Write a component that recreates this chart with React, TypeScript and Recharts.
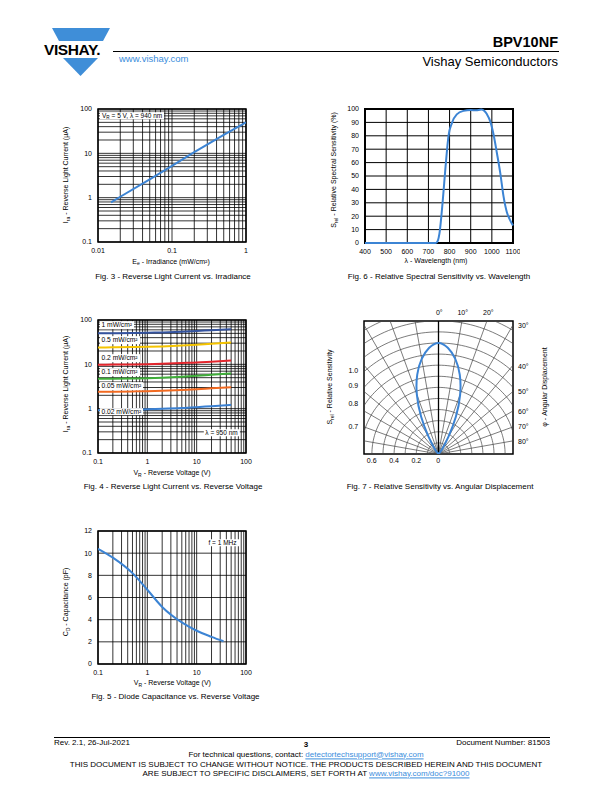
import React from "react";
import {
  ComposedChart,
  LineChart,
  Line,
  XAxis,
  YAxis,
  CartesianGrid,
  ReferenceArea,
  ReferenceLine,
} from "recharts";

const FONT = '"Liberation Sans", Arial, Helvetica, sans-serif';
const CURVE_BLUE = "#3c84d4";
const LINK_BLUE = "#3a8ddc";

// Fig. 3 - reverse light current vs irradiance
const irradiance = [0.015, 0.02, 0.05, 0.1, 0.2, 0.5, 1];
const lightCurrent = [0.78, 1.05, 2.6, 5.2, 10.6, 26, 50];

// Fig. 4 - reverse light current vs reverse voltage
const reverseVolts = [0.1, 0.2, 0.5, 1, 2, 5, 10, 20, 50];
const cur1mW = [50, 50.3, 50.8, 51.5, 52.5, 54.5, 56.5, 59, 62];
const cur05mW = [24, 24.2, 24.5, 24.8, 25.4, 26.5, 27.7, 29.2, 31];
const cur02mW = [9.8, 9.85, 9.95, 10.1, 10.3, 10.7, 11.0, 11.5, 12.2];
const cur01mW = [4.7, 4.73, 4.8, 4.87, 5.0, 5.25, 5.5, 5.8, 6.2];
const cur005mW = [2.4, 2.42, 2.45, 2.48, 2.54, 2.65, 2.75, 2.88, 3.05];
const cur002mW = [0.92, 0.93, 0.95, 0.97, 0.99, 1.03, 1.08, 1.14, 1.22];
const irrLabels = ["1 mW/cm²", "0.5 mW/cm²", "0.2 mW/cm²", "0.1 mW/cm²", "0.05 mW/cm²", "0.02 mW/cm²"];
const irrColors = ["#34539f", "#f5c400", "#e3262d", "#3fae3a", "#f26a21", "#3a80d2"];
const irrLabelY = [325, 340, 358, 372, 386, 411.5];

// Fig. 5 - diode capacitance vs reverse voltage
const capVolts = [0.1, 0.2, 0.5, 1, 2, 5, 10, 20, 35];
const capPF = [10.4, 9.6, 8.2, 6.7, 5.15, 3.75, 3.0, 2.45, 2.05];

// Fig. 6 - relative spectral sensitivity
const wavelengths = [400, 500, 600, 700, 735, 745, 752, 768, 781, 795, 811, 834, 866, 900, 925, 950, 965, 977, 992, 1008, 1024, 1040, 1055, 1071, 1085, 1100];
const spectral = [0, 0, 0, 0, 0, 2, 7, 32, 57, 80, 89.5, 96, 98.6, 99.3, 99, 99.6, 98.5, 96, 91, 81, 67, 52, 35, 23, 17.5, 13];

// Fig. 7 - relative sensitivity vs angle
const lobeAngles = [-45, -40, -35, -30, -25, -20, -15, -10, -5, 0, 5, 10, 15, 20, 25, 30, 35, 40, 45];
const lobeSens = [0, 0.02, 0.07, 0.18, 0.37, 0.57, 0.74, 0.87, 0.96, 1.0, 0.96, 0.87, 0.74, 0.57, 0.37, 0.18, 0.07, 0.02, 0];
const arcRadii = [0.1, 0.2, 0.3, 0.4, 0.5, 0.6, 0.7, 0.8, 0.9, 1.0, 1.1, 1.2, 1.3, 1.4];
const spokeAngles = [-80, -70, -60, -50, -40, -30, -20, -10, 10, 20, 30, 40, 50, 60, 70, 80];

const logLines = (lo: number, hi: number) => {
  const out: number[] = [];
  for (let e = Math.round(Math.log10(lo)); e < Math.round(Math.log10(hi)); e++) {
    for (let m = 1; m < 10; m++) out.push(+(m * Math.pow(10, e)).toPrecision(3));
  }
  out.push(hi);
  return out;
};

const tickStyle = { fontSize: 7, fill: "#000", fontFamily: FONT };

const Sub = ({ children }: { children: React.ReactNode }) => (
  <span style={{ fontSize: "0.72em", position: "relative", top: "0.3em" }}>{children}</span>
);

type TProps = {
  x: number;
  y: number;
  size?: number;
  anchor?: "start" | "middle" | "end";
  rotate?: boolean;
  bold?: boolean;
  color?: string;
  bg?: boolean;
  children: React.ReactNode;
};

function T({ x, y, size = 7, anchor = "middle", rotate, bold, color = "#000", bg, children }: TProps) {
  const tx = anchor === "start" ? "0" : anchor === "end" ? "-100%" : "-50%";
  return (
    <div
      style={{
        position: "absolute",
        left: x,
        top: y,
        transform: `translate(${tx}, -50%)${rotate ? " rotate(-90deg)" : ""}`,
        fontSize: size,
        fontWeight: bold ? "bold" : "normal",
        color,
        whiteSpace: "nowrap",
        lineHeight: 1.15,
        background: bg ? "#fff" : "transparent",
        padding: bg ? "0 2px" : 0,
      }}
    >
      {children}
    </div>
  );
}

const Box = ({ left, top, children }: { left: number; top: number; children: React.ReactNode }) => (
  <div style={{ position: "absolute", left, top }}>{children}</div>
);

function Fig3() {
  const data = irradiance.map((e, i) => ({ e, i: lightCurrent[i] }));
  return (
    <LineChart width={200} height={170} data={data} margin={{ top: 9, right: 14, bottom: 0, left: 0 }}>
      <CartesianGrid stroke="#000" strokeWidth={0.8} verticalValues={logLines(0.01, 1)} horizontalValues={logLines(0.1, 100)} />
      <XAxis dataKey="e" type="number" scale="log" domain={[0.01, 1]} ticks={[0.01, 0.1, 1]} allowDataOverflow interval={0}
        height={28} tickLine={false} axisLine={false} tickSize={4} tickMargin={2} tick={tickStyle} />
      <YAxis type="number" scale="log" domain={[0.1, 100]} ticks={[0.1, 1, 10, 100]} allowDataOverflow interval={0}
        width={38} tickLine={false} axisLine={false} tickSize={4} tickMargin={2} tick={tickStyle} />
      <ReferenceArea x1={0.01} x2={1} y1={0.1} y2={100} fill="none" stroke="#000" strokeWidth={1.5} />
      <Line dataKey="i" type="linear" stroke={CURVE_BLUE} strokeWidth={2} dot={false} isAnimationActive={false} />
    </LineChart>
  );
}

function Fig4() {
  const data = reverseVolts.map((v, i) => ({
    v, a: cur1mW[i], b: cur05mW[i], c: cur02mW[i], d: cur01mW[i], e: cur005mW[i], f: cur002mW[i],
  }));
  const keys = ["a", "b", "c", "d", "e", "f"];
  return (
    <LineChart width={200} height={170} data={data} margin={{ top: 9, right: 14, bottom: 0, left: 0 }}>
      <CartesianGrid stroke="#000" strokeWidth={0.8} verticalValues={logLines(0.1, 100)} horizontalValues={logLines(0.1, 100)} />
      <XAxis dataKey="v" type="number" scale="log" domain={[0.1, 100]} ticks={[0.1, 1, 10, 100]} allowDataOverflow interval={0}
        height={28} tickLine={false} axisLine={false} tickSize={4} tickMargin={2} tick={tickStyle} />
      <YAxis type="number" scale="log" domain={[0.1, 100]} ticks={[0.1, 1, 10, 100]} allowDataOverflow interval={0}
        width={38} tickLine={false} axisLine={false} tickSize={4} tickMargin={2} tick={tickStyle} />
      <ReferenceArea x1={0.1} x2={100} y1={0.1} y2={100} fill="none" stroke="#000" strokeWidth={1.5} />
      {keys.map((k, i) => (
        <Line key={k} dataKey={k} type="monotone" stroke={irrColors[i]} strokeWidth={2} dot={false} isAnimationActive={false} />
      ))}
    </LineChart>
  );
}

function Fig5() {
  const data = capVolts.map((v, i) => ({ v, c: capPF[i] }));
  return (
    <LineChart width={200} height={170} data={data} margin={{ top: 9, right: 14, bottom: 0, left: 0 }}>
      <CartesianGrid stroke="#000" strokeWidth={0.8} verticalValues={logLines(0.1, 100)} horizontalValues={[0, 2, 4, 6, 8, 10, 12]} />
      <XAxis dataKey="v" type="number" scale="log" domain={[0.1, 100]} ticks={[0.1, 1, 10, 100]} allowDataOverflow interval={0}
        height={28} tickLine={false} axisLine={false} tickSize={4} tickMargin={2} tick={tickStyle} />
      <YAxis type="number" domain={[0, 12]} ticks={[0, 2, 4, 6, 8, 10, 12]} interval={0}
        width={38} tickLine={false} axisLine={false} tickSize={4} tickMargin={2} tick={tickStyle} />
      <ReferenceArea x1={0.1} x2={100} y1={0} y2={12} fill="none" stroke="#000" strokeWidth={1.5} />
      <Line dataKey="c" type="monotone" stroke={CURVE_BLUE} strokeWidth={2} dot={false} isAnimationActive={false} />
    </LineChart>
  );
}

function Fig6() {
  const data = wavelengths.map((w, i) => ({ w, s: spectral[i] }));
  const xt = [400, 500, 600, 700, 800, 900, 1000, 1100];
  const yt = [0, 10, 20, 30, 40, 50, 60, 70, 80, 90, 100];
  return (
    <LineChart width={200} height={170} data={data} margin={{ top: 9, right: 7, bottom: 0, left: 0 }}>
      <CartesianGrid stroke="#000" strokeWidth={1} verticalValues={xt} horizontalValues={yt} />
      <XAxis dataKey="w" type="number" domain={[400, 1100]} ticks={xt} interval={0}
        height={27} tickLine={false} axisLine={false} tickSize={4} tickMargin={2} tick={tickStyle} />
      <YAxis type="number" domain={[0, 100]} ticks={yt} interval={0}
        width={45} tickLine={false} axisLine={false} tickSize={4} tickMargin={2} tick={tickStyle} />
      <ReferenceArea x1={400} x2={1100} y1={0} y2={100} fill="none" stroke="#000" strokeWidth={2} />
      <Line dataKey="s" type="monotone" stroke={CURVE_BLUE} strokeWidth={2} dot={false} isAnimationActive={false} />
    </LineChart>
  );
}

const PX = 0.6712;
const PY = 1.198;

function Fig7() {
  const rad = Math.PI / 180;
  const lobe = lobeAngles.map((a, i) => ({ x: lobeSens[i] * Math.sin(a * rad), y: lobeSens[i] * Math.cos(a * rad) }));
  const arc = (r: number) => {
    const pts: { x: number; y: number }[] = [];
    for (let a = -90; a <= 90; a += 2) pts.push({ x: r * Math.sin(a * rad), y: r * Math.cos(a * rad) });
    return pts;
  };
  const spokeEnd = (a: number) => {
    const s = Math.abs(Math.sin(a * rad));
    const c = Math.cos(a * rad);
    const r = Math.min(s > 0 ? PX / s : 99, PY / c);
    return { x: r * Math.sin(a * rad), y: r * c };
  };
  return (
    <ComposedChart width={153} height={137} data={lobe} margin={{ top: 2, right: 2, bottom: 2, left: 2 }}>
      <XAxis dataKey="x" type="number" domain={[-PX, PX]} hide allowDataOverflow />
      <YAxis type="number" domain={[0, PY]} hide allowDataOverflow />
      {spokeAngles.map((a) => (
        <ReferenceLine key={a} segment={[{ x: 0, y: 0 }, spokeEnd(a)]} stroke="#444" strokeWidth={0.7} />
      ))}
      {arcRadii.map((r) => (
        <Line key={r} data={arc(r)} dataKey="y" type="linear" stroke="#444" strokeWidth={0.7} dot={false} activeDot={false} isAnimationActive={false} />
      ))}
      <ReferenceLine segment={[{ x: 0, y: 0 }, { x: 0, y: PY }]} stroke="#000" strokeWidth={1.3} />
      <Line dataKey="y" type="natural" stroke={CURVE_BLUE} strokeWidth={2} dot={false} activeDot={false} isAnimationActive={false} />
      <ReferenceArea x1={-PX} x2={PX} y1={0} y2={PY} fill="none" stroke="#000" strokeWidth={1.5} />
    </ComposedChart>
  );
}

export default function App() {
  return (
    <div style={{ position: "absolute", left: 0, top: 0, width: 612, height: 792, background: "#fff", fontFamily: FONT, overflow: "hidden", color: "#000" }}>
      {/* header */}
      <svg style={{ position: "absolute", left: 0, top: 0 }} width={130} height={90}>
        <polygon points="52,28 110,28 103,41 59,41" fill="#3f8ed8" />
        <polygon points="63,58 98,58 80.5,76" fill="#3f8ed8" />
        <text x={44} y={55} fontSize={15.5} fontWeight="bold" fontFamily={FONT} letterSpacing={-0.4} fill="#000">VISHAY.</text>
      </svg>
      <div style={{ position: "absolute", left: 113, top: 51, width: 446, height: 1.3, background: "#000" }} />
      <T x={558} y={41.5} size={14.5} bold anchor="end">BPV10NF</T>
      <T x={558} y={62} size={13} anchor="end">Vishay Semiconductors</T>
      <T x={119} y={58.5} size={9.5} anchor="start" color={LINK_BLUE}>www.vishay.com</T>

      {/* Fig. 3 */}
      <Box left={60} top={100}><Fig3 /></Box>
      <T x={100} y={116} anchor="start" bg size={6.5}>V<Sub>R</Sub> = 5 V, λ = 940 nm</T>
      <T x={66} y={175} rotate>I<Sub>ra</Sub> - Reverse Light Current (µA)</T>
      <T x={171} y={261.5}>E<Sub>e</Sub> - Irradiance (mW/cm²)</T>
      <T x={173} y={276.7} size={8}>Fig. 3 - Reverse Light Current vs. Irradiance</T>

      {/* Fig. 6 */}
      <Box left={320} top={100}><Fig6 /></Box>
      <T x={333.5} y={170} rotate>S<Sub>rel</Sub> - Relative Spectral Sensitivity (%)</T>
      <T x={436} y={260.5}>λ - Wavelength (nm)</T>
      <T x={439} y={276.7} size={8}>Fig. 6 - Relative Spectral Sensitivity vs. Wavelength</T>

      {/* Fig. 4 */}
      <Box left={60} top={311}><Fig4 /></Box>
      {irrLabels.map((l, i) => (
        <T key={l} x={99.5} y={irrLabelY[i]} anchor="start" bg size={6.7}>{l}</T>
      ))}
      <T x={221.5} y={432.7} bg size={6.5}>λ = 950 nm</T>
      <T x={66} y={384} rotate>I<Sub>ra</Sub> - Reverse Light Current (µA)</T>
      <T x={172} y={473.3}>V<Sub>R</Sub> - Reverse Voltage (V)</T>
      <T x={173} y={486.7} size={8}>Fig. 4 - Reverse Light Current vs. Reverse Voltage</T>

      {/* Fig. 7 */}
      <Box left={362} top={319}><Fig7 /></Box>
      <T x={439.3} y={312.5}>0°</T>
      <T x={462.7} y={312.5}>10°</T>
      <T x={488.3} y={312.5}>20°</T>
      {[["30°", 325.7], ["40°", 366.7], ["50°", 392.3], ["60°", 411.7], ["70°", 426.7], ["80°", 441.7]].map(([l, y]) => (
        <T key={l as string} x={518} y={y as number} anchor="start">{l}</T>
      ))}
      {[["1.0", 371], ["0.9", 386], ["0.8", 404], ["0.7", 427.3]].map(([l, y]) => (
        <T key={l as string} x={353.3} y={y as number}>{l}</T>
      ))}
      {[["0.6", 371.7], ["0.4", 394], ["0.2", 416.3], ["0", 438.3]].map(([l, x]) => (
        <T key={l as string} x={x as number} y={460.7}>{l}</T>
      ))}
      <T x={330} y={386.7} rotate>S<Sub>rel</Sub> - Relative Sensitivity</T>
      <T x={545} y={387} rotate>φ - Angular Displacement</T>
      <T x={440} y={486.7} size={8}>Fig. 7 - Relative Sensitivity vs. Angular Displacement</T>

      {/* Fig. 5 */}
      <Box left={60} top={522}><Fig5 /></Box>
      <T x={222.5} y={542.7} bg size={6.5}>f = 1 MHz</T>
      <T x={66} y={601.7} rotate>C<Sub>D</Sub> - Capacitance (pF)</T>
      <T x={172.3} y={683.3}>V<Sub>R</Sub> - Reverse Voltage (V)</T>
      <T x={175.5} y={696.7} size={8}>Fig. 5 - Diode Capacitance vs. Reverse Voltage</T>

      {/* footer */}
      <div style={{ position: "absolute", left: 54, top: 736.5, width: 496, height: 1.3, background: "#000" }} />
      <T x={54} y={743} anchor="start" size={8}>Rev. 2.1, 26-Jul-2021</T>
      <T x={306} y={745} size={8} bold>3</T>
      <T x={550} y={743} anchor="end" size={8}>Document Number: 81503</T>
      <T x={306} y={754.5} size={8}>
        For technical questions, contact: <span style={{ color: LINK_BLUE, textDecoration: "underline" }}>detectortechsupport@vishay.com</span>
      </T>
      <T x={306} y={765} size={8}>THIS DOCUMENT IS SUBJECT TO CHANGE WITHOUT NOTICE. THE PRODUCTS DESCRIBED HEREIN AND THIS DOCUMENT</T>
      <T x={306} y={773.5} size={8}>
        ARE SUBJECT TO SPECIFIC DISCLAIMERS, SET FORTH AT <span style={{ color: LINK_BLUE, textDecoration: "underline" }}>www.vishay.com/doc?91000</span>
      </T>
    </div>
  );
}
